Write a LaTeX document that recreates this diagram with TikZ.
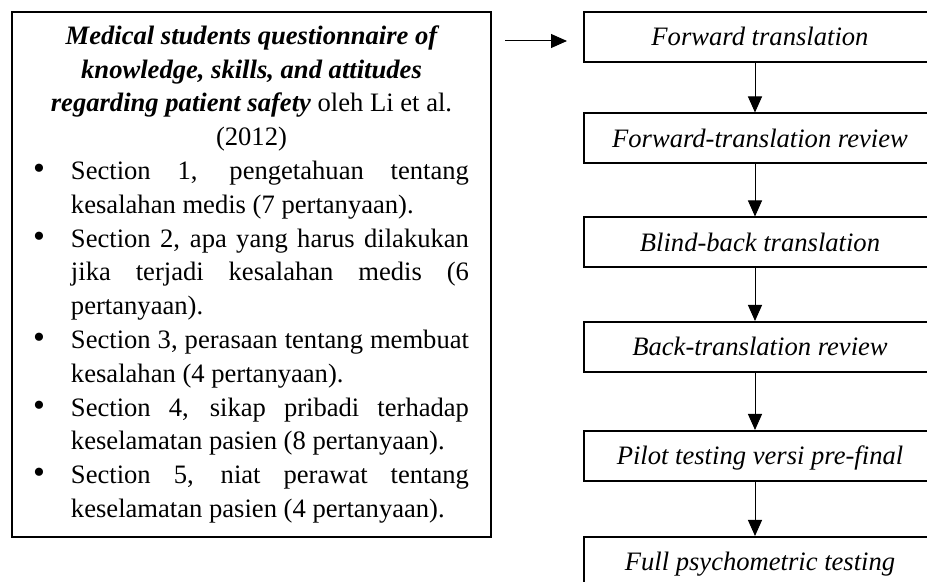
\documentclass[tikz,border=0pt]{standalone}
\usepackage{fontspec}
\setmainfont{Liberation Serif}
\usetikzlibrary{arrows.meta,calc}
\hyphenpenalty=10000
\exhyphenpenalty=10000
\newcommand{\bodysize}{\fontsize{13.3pt}{16.9pt}\selectfont}
\newcommand{\bigbullet}{{\fontsize{17pt}{17pt}\selectfont\textbullet}}

\tikzset{
  stepbox/.style={draw, line width=1pt, minimum width=176pt, minimum height=25pt,
    text height=9pt, text depth=0pt, font=\bodysize\itshape},
  questbox/.style={draw, line width=1pt, anchor=north west, text width=227.5pt,
    inner xsep=6pt, minimum height=262.5pt, align=justify, font=\bodysize},
  arr/.style={-{Triangle[length=8pt,width=7pt]}, line width=0.5pt},
}

\begin{document}
\begin{tikzpicture}[x=0.5pt,y=-0.5pt]
  \clip (0,0) rectangle (927,582);
  % questionnaire
  \node[questbox] (quest) at (11,11) {%
    {\centering\textbf{\textit{Medical students questionnaire of\\
      knowledge, skills, and attitudes\\
      regarding patient safety}} oleh Li et al.\\
      (2012)\par}
    \begin{list}{\bigbullet}{\setlength\leftmargin{23.5pt}\setlength\rightmargin{5pt}%
        \setlength\labelwidth{10.5pt}\setlength\labelsep{13pt}%
        \setlength\itemsep{0pt}\setlength\parsep{0pt}%
        \setlength\topsep{0pt}\setlength\partopsep{0pt}}
      \item Section 1, pengetahuan tentang \linebreak kesalahan medis (7 pertanyaan).
      \item Section 2, apa yang harus dilakukan \linebreak jika terjadi kesalahan medis (6 \linebreak pertanyaan).
      \item Section 3, perasaan tentang membuat \linebreak kesalahan (4 pertanyaan).
      \item Section 4, sikap pribadi terhadap \linebreak keselamatan pasien (8 pertanyaan).
      \item Section 5, niat perawat tentang \linebreak keselamatan pasien (4 pertanyaan).
    \end{list}};
  % translation steps
  \node[stepbox] (fwd) at (760,37) {Forward translation};
  \node[stepbox] (fwdrev) at (760,138.5) {Forward-translation review};
  \node[stepbox] (blind) at (760,242.5) {Blind-back translation};
  \node[stepbox] (backrev) at (760,347) {Back-translation review};
  \node[stepbox] (pilot) at (760,456) {Pilot testing versi pre-final};
  \node[stepbox] (full) at (760,562) {Full psychometric testing};
  \foreach \a/\b in {fwd/fwdrev,fwdrev/blind,blind/backrev,backrev/pilot,pilot/full}
    \draw[arr] ([xshift=-2.5pt]\a.south) -- ([xshift=-2.5pt]\b.north);
  \draw[arr] ($(quest.east |- fwd.west)+(13,4)$) -- ($(fwd.west)+(-16,4)$);
\end{tikzpicture}
\end{document}
